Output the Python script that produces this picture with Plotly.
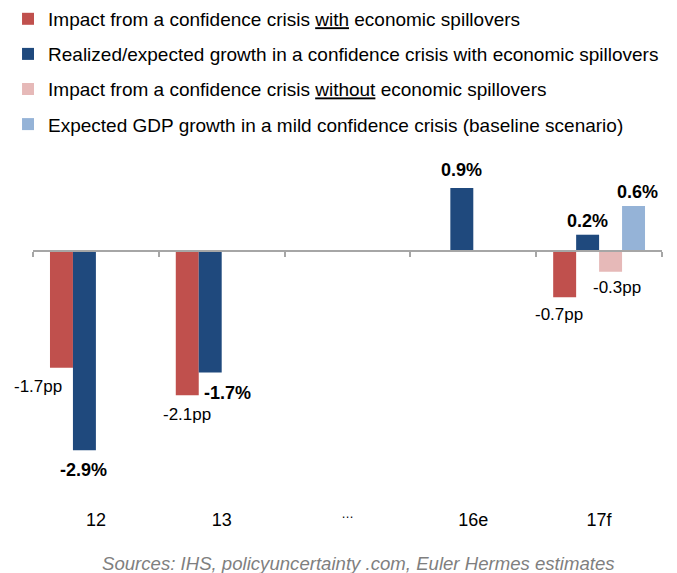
import plotly.graph_objects as go

categories = ["12", "13", "<sup>\u2026</sup>", "16e", "17f"]

series_names = [
    "Impact from a confidence crisis <u>with</u> economic spillovers",
    "Realized/expected growth in a confidence crisis with economic spillovers",
    "Impact from a confidence crisis <u>without</u> economic spillovers",
    "Expected GDP growth in a mild confidence crisis (baseline scenario)",
]
impact_with = [-1.7, -2.1, None, None, -0.67]
growth_with = [-2.9, -1.77, None, 0.92, 0.24]
impact_without = [None, None, None, None, -0.3]
baseline = [None, None, None, None, 0.66]

label_impact_with = ["-1.7pp", "-2.1pp", None, None, "-0.7pp"]
label_growth_with = ["-2.9%", "-1.7%", None, "0.9%", "0.2%"]
label_impact_without = [None, None, None, None, "-0.3pp"]
label_baseline = [None, None, None, None, "0.6%"]

source_text = "Sources: IHS, policyuncertainty .com, Euler Hermes estimates"

colors = ["#C0504D", "#1F497D", "#E6B9B8", "#95B3D7"]
series = [impact_with, growth_with, impact_without, baseline]
labels = [label_impact_with, label_growth_with, label_impact_without, label_baseline]
bold = [False, True, False, True]

# pixel nudges for each label (dx, dy) keyed by (series, category index)
nudges = {
    (0, 0): (-23, 19), (1, 0): (-1, 20),
    (0, 1): (0, 19), (1, 1): (17, 20),
    (1, 3): (0, -18),
    (0, 4): (-6, 17), (1, 4): (0, -14), (2, 4): (6, 16), (3, 4): (4, -14),
}

FONT = "Liberation Sans, Arial, sans-serif"
bargap = 0.27
ymin, ymax = -3.35, 1.3

fig = go.Figure()
for i, (name, vals, col) in enumerate(zip(series_names, series, colors)):
    fig.add_trace(go.Bar(
        x=list(range(len(categories))), y=vals, name=name,
        marker=dict(color=col, line=dict(width=0)),
        legendgroup=f"g{i}", hoverinfo="skip",
    ))

w = (1 - bargap) / len(series)
annotations = []
for si, (vals, labs) in enumerate(zip(series, labels)):
    off = (si - (len(series) - 1) / 2) * w
    for ci, (v, lab) in enumerate(zip(vals, labs)):
        if v is None or lab is None:
            continue
        dx, dy = nudges.get((si, ci), (0, 18 if v < 0 else -18))
        txt = f"<b>{lab}</b>" if bold[si] else lab
        annotations.append(dict(
            x=ci + off, y=v, xref="x", yref="y", text=txt, showarrow=False,
            xanchor="center", yanchor="middle", xshift=dx, yshift=-dy,
            font=dict(family=FONT, size=18 if bold[si] else 17, color="#000000"),
        ))

annotations.append(dict(
    x=0.518, y=-0.26, xref="paper", yref="paper", text=f"<i>{source_text}</i>",
    showarrow=False, xanchor="center", yanchor="middle",
    font=dict(family=FONT, size=18.6, color="#7F7F7F"),
))

fig.update_layout(
    width=677, height=573,
    margin=dict(l=33, r=15, t=162, b=92, autoexpand=False),
    paper_bgcolor="white", plot_bgcolor="white",
    barmode="group", bargap=bargap, bargroupgap=0,
    font=dict(family=FONT, size=18, color="#000000"),
    showlegend=True,
    legend=dict(
        x=-0.0397, y=1.508, xanchor="left", yanchor="top",
        orientation="v", traceorder="grouped", tracegroupgap=7.4,
        font=dict(family=FONT, size=19, color="#000000"),
        bgcolor="rgba(0,0,0,0)", borderwidth=0,
    ),
    xaxis=dict(
        type="linear", tickmode="array",
        tickvals=list(range(len(categories))), ticktext=categories,
        range=[-0.5, len(categories) - 0.5],
        anchor="free", position=(0 - ymin) / (ymax - ymin),
        showline=True, linecolor="#A6A6A6", linewidth=1.5,
        ticks="", showgrid=False, zeroline=False,
        ticklabelstandoff=252,
        tickfont=dict(family=FONT, size=18, color="#000000"),
        minor=dict(tickvals=[i - 0.5 for i in range(len(categories) + 1)],
                   ticks="outside", ticklen=5, tickcolor="#A6A6A6", tickwidth=1.5,
                   showgrid=False),
    ),
    yaxis=dict(range=[ymin, ymax], visible=False, showgrid=False, zeroline=False),
    annotations=annotations,
)

fig.write_html("out.html", config={"displayModeBar": False},
               post_script="document.body.style.margin='0px';")
